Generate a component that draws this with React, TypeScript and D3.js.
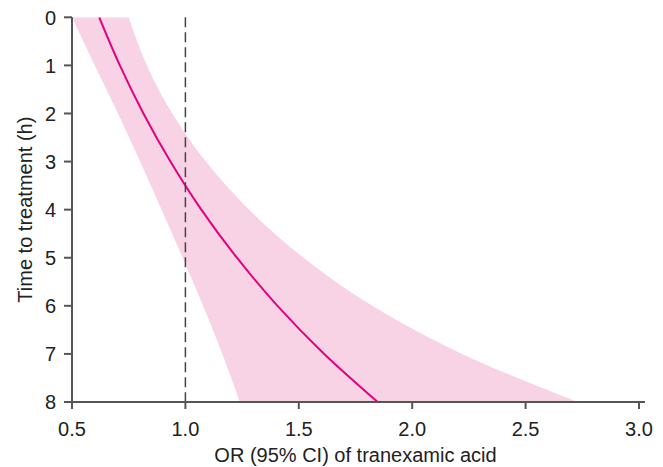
import React from "react";
import * as d3 from "d3";

const hours = [0, 1, 2, 3, 4, 5, 6, 7, 8];
const orCentral = [0.62, 0.711, 0.815, 0.934, 1.07, 1.227, 1.406, 1.612, 1.848];
const orLower = [0.5, 0.6, 0.703, 0.8, 0.895, 0.988, 1.078, 1.163, 1.24];
const orUpper = [0.75, 0.83, 0.942, 1.09, 1.281, 1.521, 1.824, 2.22, 2.73];
const xTicks = [0.5, 1.0, 1.5, 2.0, 2.5, 3.0];
const yTicks = [0, 1, 2, 3, 4, 5, 6, 7, 8];
const xTitle = "OR (95% CI) of tranexamic acid";
const yTitle = "Time to treatment (h)";

const W = 663;
const H = 467;
const FONT = "'Liberation Sans', Arial, Helvetica, sans-serif";

export default function App() {
  const x = d3.scaleLinear().domain([0.5, 3.0]).range([72, 639]);
  const y = d3.scaleLinear().domain([0, 8]).range([17.3, 402]);

  const rows = hours.map((h, i) => ({ h, c: orCentral[i], lo: orLower[i], hi: orUpper[i] }));

  const area = d3
    .area<any>()
    .y((d) => y(d.h))
    .x0((d) => x(d.lo))
    .x1((d) => x(d.hi))
    .curve(d3.curveMonotoneY);
  const line = d3
    .line<any>()
    .y((d) => y(d.h))
    .x((d) => x(d.c))
    .curve(d3.curveMonotoneY);

  const axisColor = "#555";
  const [y0, y1] = y.range();
  const [x0] = x.range();

  return (
    <div style={{ position: "fixed", left: 0, top: 0 }}>
      <svg width={W} height={H} style={{ display: "block", background: "#fff" }} fontFamily={FONT}>
        <defs>
          <clipPath id="plot">
            <rect x={x0} y={y0} width={W - x0} height={y1 - y0} />
          </clipPath>
        </defs>
        <g clipPath="url(#plot)">
          <path d={area(rows) || ""} fill="#f8d3e5" stroke="none" />
          <path d={line(rows) || ""} fill="none" stroke="#e6007e" strokeWidth={2} />
        </g>
        <line x1={x(1)} x2={x(1)} y1={y0} y2={y1} stroke="#444" strokeWidth={1.5} strokeDasharray="10,5" />
        {/* y axis */}
        <line x1={x0} x2={x0} y1={y0} y2={y1} stroke={axisColor} strokeWidth={2} />
        {yTicks.map((t) => (
          <g key={"y" + t}>
            <line x1={x0 - 8} x2={x0} y1={y(t)} y2={y(t)} stroke={axisColor} strokeWidth={2} />
            <text x={x0 - 16} y={y(t)} dy="0.36em" textAnchor="end" fontSize={20} fill="#222">
              {t}
            </text>
          </g>
        ))}
        {/* x axis */}
        <line x1={x0} x2={x(3.0) + 6} y1={y1} y2={y1} stroke={axisColor} strokeWidth={2} />
        {xTicks.map((t) => (
          <g key={"x" + t}>
            <line x1={x(t)} x2={x(t)} y1={y1} y2={y1 + 7} stroke={axisColor} strokeWidth={2} />
            <text x={x(t)} y={y1 + 27} dy="0.36em" textAnchor="middle" fontSize={20} fill="#222">
              {d3.format(".1f")(t)}
            </text>
          </g>
        ))}
        <text x={(x(0.5) + x(3.0)) / 2} y={455} dy="0.36em" textAnchor="middle" fontSize={20} fill="#222">
          {xTitle}
        </text>
        <text
          transform={`translate(25,${(y0 + y1) / 2}) rotate(-90)`}
          dy="0.36em"
          textAnchor="middle"
          fontSize={20}
          fill="#222"
        >
          {yTitle}
        </text>
      </svg>
    </div>
  );
}
